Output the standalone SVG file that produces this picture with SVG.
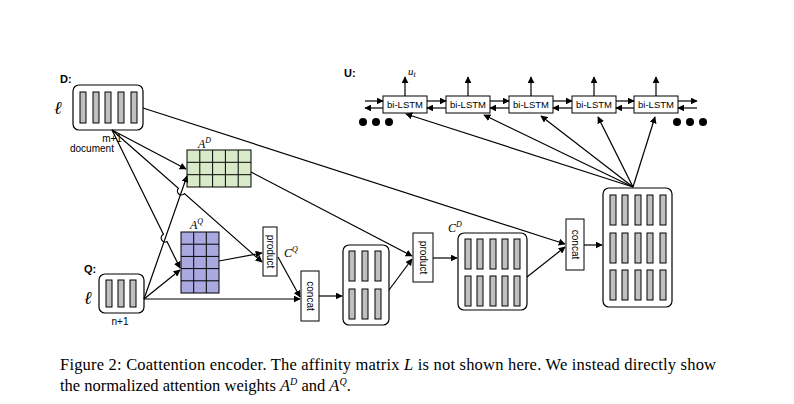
<svg xmlns="http://www.w3.org/2000/svg" width="794" height="404" viewBox="0 0 794 404">
<defs>
<marker id="ah" viewBox="0 0 10 10" refX="9" refY="5" markerWidth="7" markerHeight="7" markerUnits="userSpaceOnUse" orient="auto"><path d="M0,0 L10,5 L0,10 z" fill="#000"/></marker>
<style>
.box{fill:#fff;stroke:#000;stroke-width:1.2}
.bar{fill:#c0c0c0;stroke:#000;stroke-width:1}
.op{fill:#fff;stroke:#000;stroke-width:1}
.s{font-family:"Liberation Sans",Arial,sans-serif;fill:#000}
.m{font-family:"Liberation Serif","Times New Roman",serif;font-style:italic;fill:#000}
.c line,.c path{stroke:#000;stroke-width:1.2;fill:none}
.a{marker-end:url(#ah)}
.gd{fill:#d9eac8;stroke:#000;stroke-width:1}
.gq{fill:#a9a9e0;stroke:#000;stroke-width:1}
</style>
</defs>
<rect width="794" height="404" fill="#fff"/>
<g id="D">
<text class="s" x="60" y="83" font-size="11" font-weight="bold">D:</text>
<text class="m" x="54" y="114" font-size="18">ℓ</text>
<rect class="box" x="73" y="85" width="70" height="45" rx="6"/>
<rect class="bar" x="80" y="92" width="6" height="31"/><rect class="bar" x="93" y="92" width="6" height="31"/><rect class="bar" x="105" y="92" width="6" height="31"/><rect class="bar" x="118" y="92" width="6" height="31"/><rect class="bar" x="131" y="92" width="6" height="31"/>
<text class="s" x="112" y="142" font-size="10" text-anchor="middle">m+1</text>
<text class="s" x="70" y="152" font-size="10">document</text>
</g>
<g id="AD">
<text class="m" x="198" y="148" font-size="12">A<tspan font-size="8" dy="-5">D</tspan></text>
<rect class="gd" x="187" y="150" width="64" height="37"/>
<path d="M199.8 150V187M212.6 150V187M225.4 150V187M238.2 150V187M187 162.3H251M187 174.7H251" stroke="#000" stroke-width="1"/>
</g>
<g id="AQ">
<text class="m" x="190" y="229" font-size="12">A<tspan font-size="8" dy="-5">Q</tspan></text>
<rect class="gq" x="181" y="232" width="38" height="61"/>
<path d="M193.7 232V293M206.3 232V293M181 244.2H219M181 256.4H219M181 268.6H219M181 280.8H219" stroke="#000" stroke-width="1"/>
</g>
<g id="Q">
<text class="s" x="84" y="273" font-size="11" font-weight="bold">Q:</text>
<text class="m" x="84" y="304" font-size="18">ℓ</text>
<rect class="box" x="99" y="274" width="45" height="39" rx="6"/>
<rect class="bar" x="106" y="280" width="6" height="27"/><rect class="bar" x="118" y="280" width="6" height="27"/><rect class="bar" x="130" y="280" width="6" height="27"/>
<text class="s" x="120" y="325" font-size="10" text-anchor="middle">n+1</text>
</g>
<g id="product1">
<rect class="op" x="263" y="227" width="14" height="49"/>
<text class="s" font-size="10" transform="translate(266.5,251.5) rotate(90)" text-anchor="middle">product</text>
<text class="m" x="284" y="257" font-size="12">C<tspan font-size="8" dy="-5">Q</tspan></text>
</g>
<g id="concat1">
<rect class="op" x="301" y="271" width="18" height="50"/>
<text class="s" font-size="10" transform="translate(306.5,296) rotate(90)" text-anchor="middle">concat</text>
</g>
<g id="mid">
<rect class="box" x="343" y="245" width="46" height="80" rx="6"/>
<rect class="bar" x="349" y="251" width="6" height="30"/><rect class="bar" x="362" y="251" width="6" height="30"/><rect class="bar" x="375" y="251" width="6" height="30"/>
<rect class="bar" x="349" y="289" width="6" height="30"/><rect class="bar" x="362" y="289" width="6" height="30"/><rect class="bar" x="375" y="289" width="6" height="30"/>
</g>
<g id="product2">
<rect class="op" x="413" y="233" width="20" height="49"/>
<text class="s" font-size="10" transform="translate(419.5,257.5) rotate(90)" text-anchor="middle">product</text>
</g>
<g id="CD">
<text class="m" x="448" y="232" font-size="12">C<tspan font-size="8" dy="-5">D</tspan></text>
<rect class="box" x="458" y="233" width="69" height="77" rx="6"/>
<rect class="bar" x="465" y="239" width="6" height="30"/><rect class="bar" x="477" y="239" width="6" height="30"/><rect class="bar" x="490" y="239" width="6" height="30"/><rect class="bar" x="502" y="239" width="6" height="30"/><rect class="bar" x="514" y="239" width="6" height="30"/>
<rect class="bar" x="465" y="276" width="6" height="30"/><rect class="bar" x="477" y="276" width="6" height="30"/><rect class="bar" x="490" y="276" width="6" height="30"/><rect class="bar" x="502" y="276" width="6" height="30"/><rect class="bar" x="514" y="276" width="6" height="30"/>
</g>
<g id="concat2">
<rect class="op" x="566" y="219" width="18" height="51"/>
<text class="s" font-size="10" transform="translate(571.5,244.5) rotate(90)" text-anchor="middle">concat</text>
</g>
<g id="big">
<rect class="box" x="603" y="188" width="69" height="119" rx="6"/>
<g class="bar">
<rect x="610" y="195" width="6" height="30"/><rect x="622" y="195" width="6" height="30"/><rect x="635" y="195" width="6" height="30"/><rect x="647" y="195" width="6" height="30"/><rect x="660" y="195" width="6" height="30"/>
<rect x="610" y="233" width="6" height="30"/><rect x="622" y="233" width="6" height="30"/><rect x="635" y="233" width="6" height="30"/><rect x="647" y="233" width="6" height="30"/><rect x="660" y="233" width="6" height="30"/>
<rect x="610" y="270" width="6" height="30"/><rect x="622" y="270" width="6" height="30"/><rect x="635" y="270" width="6" height="30"/><rect x="647" y="270" width="6" height="30"/><rect x="660" y="270" width="6" height="30"/>
</g>
</g>
<g id="U">
<text class="s" x="344" y="77" font-size="11" font-weight="bold">U:</text>
<text class="m" x="408" y="75" font-size="11">u<tspan font-size="8" dy="2">t</tspan></text>
<g id="lstm1"><rect class="op" x="383" y="96" width="44" height="17"/><text class="s" x="405" y="108" font-size="9.5" text-anchor="middle">bi-LSTM</text></g>
<g id="lstm2"><rect class="op" x="446" y="96" width="44" height="17"/><text class="s" x="468" y="108" font-size="9.5" text-anchor="middle">bi-LSTM</text></g>
<g id="lstm3"><rect class="op" x="509" y="96" width="44" height="17"/><text class="s" x="531" y="108" font-size="9.5" text-anchor="middle">bi-LSTM</text></g>
<g id="lstm4"><rect class="op" x="572" y="96" width="44" height="17"/><text class="s" x="594" y="108" font-size="9.5" text-anchor="middle">bi-LSTM</text></g>
<g id="lstm5"><rect class="op" x="634" y="96" width="44" height="17"/><text class="s" x="656" y="108" font-size="9.5" text-anchor="middle">bi-LSTM</text></g>
<circle cx="363" cy="122" r="4"/><circle cx="376" cy="122" r="4"/><circle cx="389" cy="122" r="4"/>
<circle cx="677" cy="122" r="4"/><circle cx="690" cy="122" r="4"/><circle cx="703" cy="122" r="4"/>
</g>
<g id="connectors" class="c">
<line class="a" x1="405" y1="96" x2="405" y2="77"/><line class="a" x1="468" y1="96" x2="468" y2="77"/><line class="a" x1="531" y1="96" x2="531" y2="77"/><line class="a" x1="594" y1="96" x2="594" y2="77"/><line class="a" x1="656" y1="96" x2="656" y2="77"/>
<line class="a" x1="365" y1="101" x2="383" y2="101"/><line class="a" x1="383" y1="108" x2="365" y2="108"/>
<line class="a" x1="427" y1="101" x2="446" y2="101"/><line class="a" x1="446" y1="108" x2="427" y2="108"/>
<line class="a" x1="490" y1="101" x2="509" y2="101"/><line class="a" x1="509" y1="108" x2="490" y2="108"/>
<line class="a" x1="553" y1="101" x2="572" y2="101"/><line class="a" x1="572" y1="108" x2="553" y2="108"/>
<line class="a" x1="616" y1="101" x2="634" y2="101"/><line class="a" x1="634" y1="108" x2="616" y2="108"/>
<line class="a" x1="678" y1="101" x2="697" y2="101"/><line class="a" x1="697" y1="108" x2="678" y2="108"/>
<line class="a" x1="633" y1="187" x2="406" y2="114"/><line class="a" x1="633" y1="187" x2="484" y2="115"/><line class="a" x1="633" y1="187" x2="541" y2="116"/><line class="a" x1="633" y1="187" x2="598" y2="117"/><line class="a" x1="633" y1="187" x2="655" y2="117"/>
<line class="a" x1="143" y1="108" x2="565" y2="244"/>
<line class="a" x1="251" y1="172" x2="412" y2="256"/>
<line class="a" x1="389" y1="290" x2="412" y2="259"/>
<line class="a" x1="433" y1="258" x2="457" y2="258"/>
<line class="a" x1="527" y1="277" x2="565" y2="247"/>
<line class="a" x1="584" y1="245" x2="602" y2="245"/>
<line class="a" x1="319" y1="296" x2="342" y2="296"/>
<line class="a" x1="112" y1="130" x2="186" y2="169"/>
<path class="a" d="M112 130 L178.4 188.4 A3.5 3.5 0 0 0 184.4 193.6 L262 262"/>
<path class="a" d="M112 130 L163.4 234.3 A3.5 3.5 0 0 0 167 241.5 L180 268"/>
<line class="a" x1="144" y1="299" x2="187" y2="176"/>
<line class="a" x1="144" y1="299" x2="180" y2="270"/>
<line class="a" x1="144" y1="299" x2="300" y2="299"/>
<line class="a" x1="219" y1="261" x2="262" y2="253"/>
<line class="a" x1="278" y1="257" x2="300" y2="297"/>
</g>
<g id="caption" font-family="'Liberation Serif','Times New Roman',serif" font-size="16.5" fill="#000">
<text x="60" y="370" textLength="656" lengthAdjust="spacing">Figure 2: Coattention encoder. The affinity matrix <tspan font-style="italic">L</tspan> is not shown here. We instead directly show</text>
<text x="60" y="391">the normalized attention weights <tspan font-style="italic">A</tspan><tspan font-style="italic" font-size="10" dy="-6">D</tspan><tspan dy="6"> and </tspan><tspan font-style="italic">A</tspan><tspan font-style="italic" font-size="10" dy="-6">Q</tspan><tspan dy="6">.</tspan></text>
</g>
</svg>
